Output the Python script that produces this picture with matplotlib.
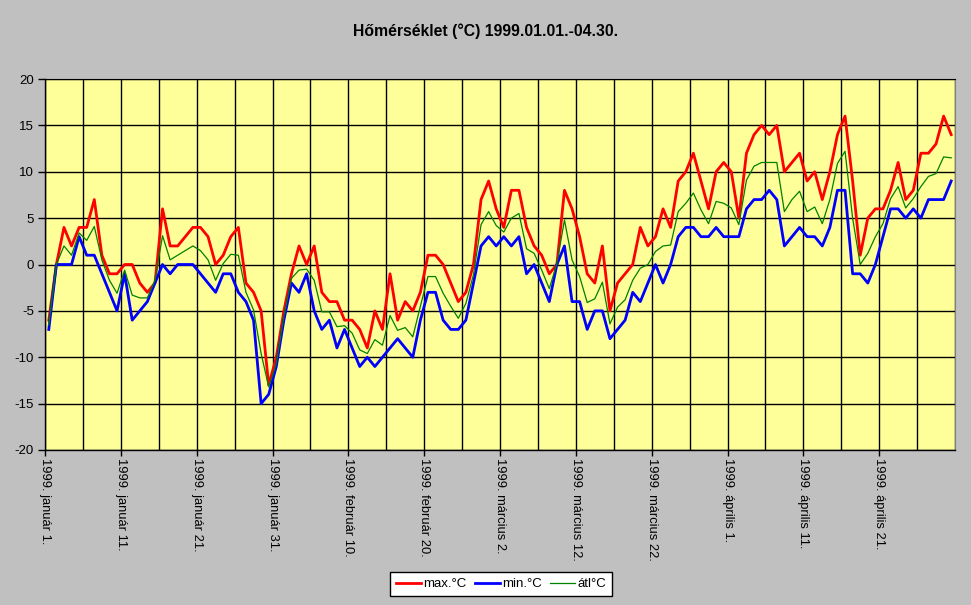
import matplotlib
matplotlib.use("Agg")
import matplotlib.pyplot as plt
import numpy as np
from matplotlib.ticker import MultipleLocator, FixedLocator

plt.rcParams["font.family"] = ["Liberation Sans", "DejaVu Sans"]
plt.rcParams["axes.unicode_minus"] = False

# ── Data (daily values, 1999-01-01 .. 1999-04-30) ────────────────────────────
max_c = [-6, 0, 4, 2, 4, 4, 7, 1, -1, -1,
         0, 0, -2, -3, -2, 6, 2, 2, 3, 4,
         4, 3, 0, 1, 3, 4, -2, -3, -5, -13,
         -10, -5, -1, 2, 0, 2, -3, -4, -4, -6,
         -6, -7, -9, -5, -7, -1, -6, -4, -5, -3,
         1, 1, 0, -2, -4, -3, 0, 7, 9, 6,
         4, 8, 8, 4, 2, 1, -1, 0, 8, 6,
         3, -1, -2, 2, -5, -2, -1, 0, 4, 2,
         3, 6, 4, 9, 10, 12, 9, 6, 10, 11,
         10, 5, 12, 14, 15, 14, 15, 10, 11, 12,
         9, 10, 7, 10, 14, 16, 9, 1, 5, 6,
         6, 8, 11, 7, 8, 12, 12, 13, 16, 14]

min_c = [-7, 0, 0, 0, 3, 1, 1, -1, -3, -5,
         -1, -6, -5, -4, -2, 0, -1, 0, 0, 0,
         -1, -2, -3, -1, -1, -3, -4, -6, -15, -14,
         -11, -6, -2, -3, -1, -5, -7, -6, -9, -7,
         -9, -11, -10, -11, -10, -9, -8, -9, -10, -6,
         -3, -3, -6, -7, -7, -6, -2, 2, 3, 2,
         3, 2, 3, -1, 0, -2, -4, 0, 2, -4,
         -4, -7, -5, -5, -8, -7, -6, -3, -4, -2,
         0, -2, 0, 3, 4, 4, 3, 3, 4, 3,
         3, 3, 6, 7, 7, 8, 7, 2, 3, 4,
         3, 3, 2, 4, 8, 8, -1, -1, -2, 0,
         3, 6, 6, 5, 6, 5, 7, 7, 7, 9]

atl_c = [-6.5, 0, 2, 1, 3.4, 2.6, 4.1, 0.5, -1.7, -3.1,
         -0.6, -3.3, -3.6, -3.6, -1.7, 3.1, 0.5, 1, 1.5, 2,
         1.5, 0.5, -1.7, 0.1, 1.1, 1, -3, -4.9, -9.6, -13.2,
         -10.7, -5.6, -1.5, -0.6, -0.5, -1.7, -5.1, -5.1, -6.7, -6.6,
         -7.4, -9.2, -9.6, -8.1, -8.7, -5.5, -7.1, -6.8, -7.8, -4.5,
         -1.3, -1.3, -3.1, -4.5, -5.8, -4.2, -1.1, 4.3, 5.7, 4.2,
         3.5, 5, 5.5, 1.7, 1.2, -0.6, -2.6, 0.1, 4.8, 0.5,
         -1.3, -4.1, -3.7, -1.9, -6.4, -4.6, -3.8, -1.7, -0.4, 0,
         1.4, 2, 2.1, 5.7, 6.6, 7.7, 5.9, 4.4, 6.8, 6.6,
         6.1, 4.3, 9.1, 10.6, 11, 11, 11, 5.7, 7, 7.9,
         5.7, 6.2, 4.4, 7, 10.9, 12.2, 5, 0, 1.2, 3,
         4.4, 7.1, 8.4, 6.1, 7.1, 8.4, 9.5, 9.8, 11.6, 11.5]

tick_labels = ["1999. január 1.", "1999. január 11.", "1999. január 21.",
               "1999. január 31.", "1999. február 10.", "1999. február 20.",
               "1999. március 2.", "1999. március 12.", "1999. március 22.",
               "1999. április 1.", "1999. április 11.", "1999. április 21."]

# ── Plot ─────────────────────────────────────────────────────────────────────
n = len(max_c)
x = np.arange(n) + 0.5   # categories sit between tick marks

fig = plt.figure(figsize=(9.71, 6.05), dpi=100, facecolor="#C0C0C0")
ax = fig.add_axes([45 / 971, 1 - 450 / 605, 910 / 971, 371 / 605])
ax.set_facecolor("#FFFF99")

ax.plot(x, max_c, color="#FF0000", linewidth=2.0, label="max.°C", zorder=3)
ax.plot(x, min_c, color="#0000FF", linewidth=2.0, label="min.°C", zorder=3)
ax.plot(x, atl_c, color="#008000", linewidth=0.9, label="átl°C", zorder=4)

ax.set_xlim(0, n)
ax.set_ylim(-20, 20)
ax.yaxis.set_major_locator(MultipleLocator(5))
ax.xaxis.set_major_locator(FixedLocator(np.arange(0, n, 10)))
ax.xaxis.set_minor_locator(MultipleLocator(5))
ax.set_xticklabels(tick_labels, rotation=270, va="top", ha="center")

ax.grid(True, which="both", color="black", linewidth=1.0)
ax.set_axisbelow(True)
ax.tick_params(axis="x", which="major", length=4, width=1, color="black",
               labelsize=9.3, pad=2)
ax.tick_params(axis="x", which="minor", length=0)
ax.tick_params(axis="y", length=5, width=1, color="black", labelsize=9.5, pad=3)

for side in ["left", "bottom"]:
    ax.spines[side].set_color("black")
    ax.spines[side].set_linewidth(1.0)
ax.spines["top"].set_color("black")
ax.spines["right"].set_color("#808080")

fig.text(0.5, 1 - 31 / 605, "Hőmérséklet (°C) 1999.01.01.-04.30.",
         ha="center", va="center", fontsize=11.3, fontweight="bold")

leg = fig.legend(loc="center", bbox_to_anchor=(501 / 971, 1 - 584 / 605),
                 ncol=3, fontsize=9.5, frameon=True, fancybox=False,
                 edgecolor="black", facecolor="white", framealpha=1,
                 handlelength=1.9, handletextpad=0.2, columnspacing=0.6,
                 borderpad=0.45, borderaxespad=0)
leg.get_frame().set_linewidth(1.0)

fig.savefig("out.png", dpi=100, facecolor=fig.get_facecolor())
